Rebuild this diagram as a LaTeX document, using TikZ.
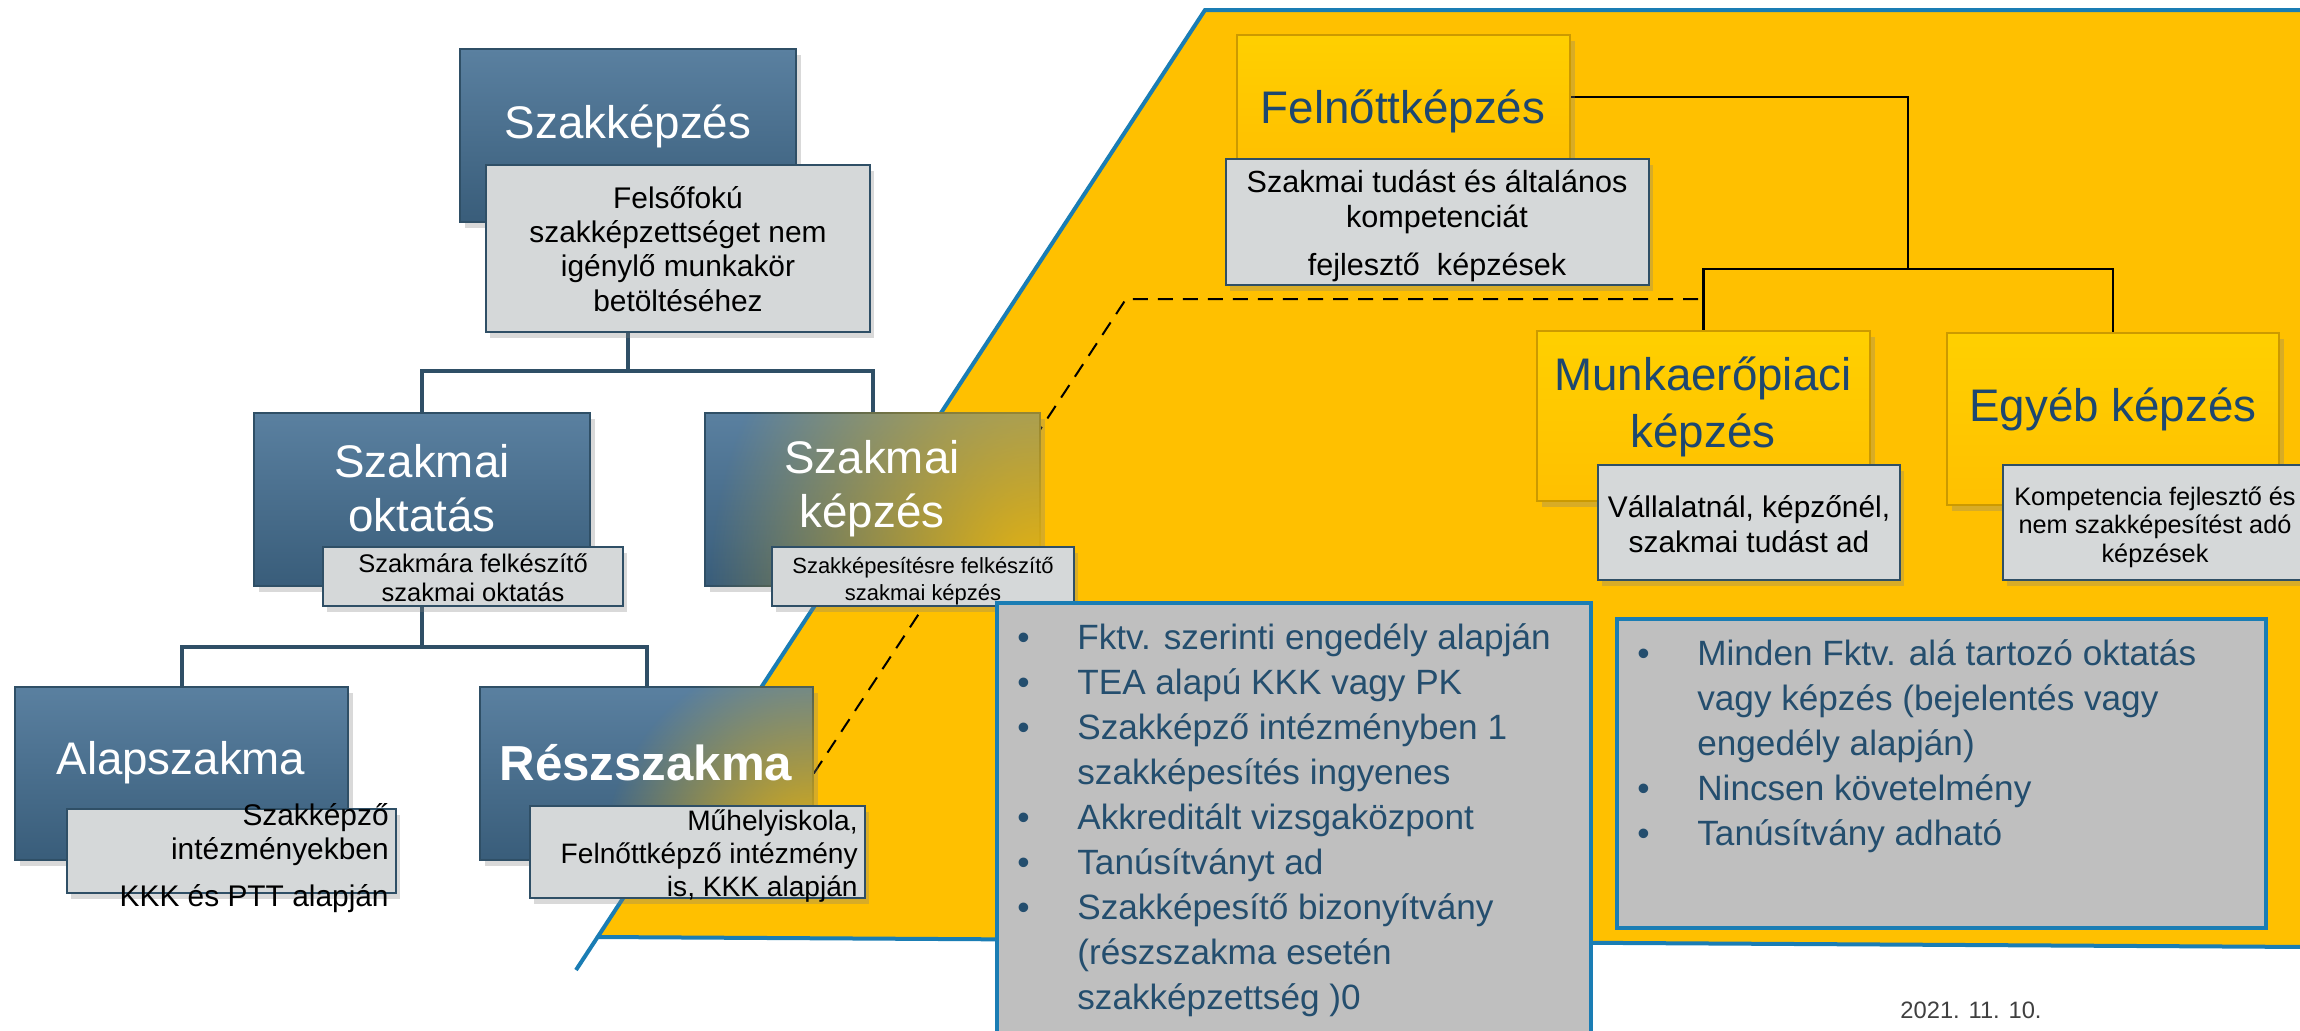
\documentclass[tikz,border=0pt]{standalone}
\usepackage{fontspec}
\setmainfont{Liberation Sans}
\usetikzlibrary{fit,shadows,fadings,backgrounds}
\definecolor{sarga}{HTML}{FFC000}
\definecolor{kek}{HTML}{1A7DB4}
\definecolor{sotetkek}{HTML}{2F4F66}
\definecolor{dobozfent}{HTML}{5A80A0}
\definecolor{dobozlent}{HTML}{395D7A}
\definecolor{szurke}{HTML}{BFBFBF}
\definecolor{halvany}{HTML}{D5D8D9}
\definecolor{betukek}{HTML}{1D4770}
\definecolor{listakek}{HTML}{244E6E}
\def\Sarga{(1205,10) -- (2310,10) -- (2310,947) -- (598,937) -- cycle}
\def\Pont{\makebox[12mm][l]{\textbullet}}
\def\Beh{\hspace*{12mm}}
\tikzfading[name=sargafade, inner color=transparent!10, outer color=transparent!100]
\tikzset{
  doboz/.style={inner sep=0pt, draw=sotetkek, line width=0.3mm,
    top color=dobozfent, bottom color=dobozlent,
    drop shadow={shadow xshift=1mm, shadow yshift=-1.2mm, opacity=0.3}},
  sargadoboz/.style={inner sep=0pt, draw=sarga!80!black, line width=0.3mm,
    top color=sarga!75!yellow, bottom color=sarga,
    drop shadow={shadow xshift=1mm, shadow yshift=-1.2mm, opacity=0.3}},
  alja/.style={inner sep=0pt, draw=sotetkek, line width=0.5mm, fill=halvany,
    drop shadow={shadow xshift=0.8mm, shadow yshift=-1.2mm, opacity=0.3}},
  aljaszoveg/.style={align=center, text=black, inner sep=0pt},
  cim/.style={text=white, align=center, font=\fontsize{26}{30.7}\selectfont},
  sargacim/.style={text=betukek, align=center, font=\fontsize{26}{32.4}\selectfont},
  fa/.style={sotetkek, line width=0.8mm},
  vonal/.style={black, line width=0.45mm},
  szaggatott/.style={black, line width=0.4mm, dash pattern=on 3mm off 2mm},
  lista/.style={draw=kek, line width=0.8mm, fill=szurke, inner sep=0pt},
  listaszoveg/.style={text=listakek, align=left, inner sep=0pt, anchor=north west,
    font=\fontsize{20}{25.6}\selectfont}
}
\begin{document}
\begin{tikzpicture}[x=0.2mm, y=-0.2mm]
    \useasboundingbox (0,0) rectangle (2300,1030);
    \clip (0,0) rectangle (2300,1030);
    \coordinate (ag1) at (628,371);
    \coordinate (ag2) at (422,647);
    \coordinate (ag3) at (1908,269);
    \coordinate (tores) at (1126,299);
    % Szakkepzes
    \node[doboz, fit={(460,49) (796,222)}] (szk) {};
    \node[cim] (szkC) at (628,126) {Szakképzés};
    \node[alja, fit={(486,165) (870,332)}] (szkA) {};
    \node[aljaszoveg, font=\fontsize{17}{19.5}\selectfont] (szkAT) at (678,249)
      {Felsőfokú\\szakképzettséget nem\\igénylő munkakör\\betöltéséhez};
    \node[doboz, fit={(254,413) (590,586)}] (okt) {};
    \node[cim] (oktC) at (422,488) {Szakmai\\oktatás};
    \node[alja, fit={(323,547) (623,606)}] (oktA) {};
    \node[aljaszoveg, font=\fontsize{14.5}{16.3}\selectfont] (oktAT) at (473,578)
      {Szakmára felkészítő\\szakmai oktatás};
    \node[doboz, fit={(705,413) (1040,586)}] (kep) {};
    \begin{scope}
      \clip (kep.south west) rectangle (kep.north east);
      \fill[sarga, path fading=sargafade] (710,206) rectangle (1370,966);
    \end{scope}
    \node[cim] (kepC) at (872,489) {Szakmai\\képzés};
    \node[alja, fit={(772,547) (1074,606)}] (kepA) {};
    \node[aljaszoveg, font=\fontsize{12.5}{15.4}\selectfont] (kepAT) at (923,581)
      {Szakképesítésre felkészítő\\szakmai képzés};
    \node[doboz, fit={(15,687) (348,860)}] (alap) {};
    \node[cim] (alapC) at (181,763) {Alapszakma};
    \node[alja, fit={(67,809) (396,893)}] (alapA) {};
    \node[align=right, anchor=north east, inner sep=0pt, font=\fontsize{17}{19.4}\selectfont] (alapT)
      at (389,803) {Szakképző\\intézményekben\\[2.6mm]KKK és PTT alapján};
    \node[doboz, fit={(480,687) (813,860)}] (resz) {};
    \begin{scope}
      \clip (resz.south west) rectangle (resz.north east);
      \fill[sarga, path fading=sargafade] (603,650) rectangle (1023,1070);
    \end{scope}
    \node[cim, font=\fontsize{28}{30}\selectfont\bfseries] (reszC) at (646,763) {Részszakma};
    \node[alja, fit={(530,806) (865,898)}] (reszA) {};
    \node[align=right, anchor=north east, inner sep=0pt, font=\fontsize{16}{18.8}\selectfont] (reszT)
      at (858,809) {Műhelyiskola,\\Felnőttképző intézmény\\is, KKK alapján};
    % Felnottkepzes
    \node[sargadoboz, fit={(1237,35) (1570,159)}] (fel) {};
    \node[sargacim] (felC) at (1403,111) {Felnőttképzés};
    \node[alja, fit={(1226,159) (1649,285)}] (felA) {};
    \node[aljaszoveg, font=\fontsize{17.4}{19.4}\selectfont] (felAT) at (1437,226)
      {Szakmai tudást és általános\\kompetenciát\\[2.8mm]fejlesztő\ \ képzések};
    \node[sargadoboz, fit={(1537,331) (1870,501)}] (munk) {};
    \node[sargacim] (munkC) at (1703,407) {Munkaerőpiaci\\képzés};
    \node[alja, fit={(1598,465) (1900,580)}] (munkA) {};
    \node[aljaszoveg, font=\fontsize{17}{19.9}\selectfont] (munkAT) at (1749,524)
      {Vállalatnál, képzőnél,\\szakmai tudást ad};
    \node[sargadoboz, fit={(1947,333) (2279,505)}] (egy) {};
    \node[sargacim] (egyC) at (2113,409) {Egyéb képzés};
    \node[alja, fit={(2003,465) (2307,580)}] (egyA) {};
    \node[aljaszoveg, font=\fontsize{14.4}{16.2}\selectfont] (egyAT) at (2155,527)
      {Kompetencia fejlesztő és\\nem szakképesítést adó\\képzések};
    % lists
    \node[lista, fit={(997,603) (1591,1045)}] (listaB) {};
    \node[listaszoveg] (listaBT) at (1017,623)
      {\Pont Fktv. szerinti engedély alapján\\ \Pont TEA alapú KKK vagy PK\\
       \Pont Szakképző intézményben 1\\ \Beh szakképesítés ingyenes\\
       \Pont Akkreditált vizsgaközpont\\ \Pont Tanúsítványt ad\\
       \Pont Szakképesítő bizonyítvány\\ \Beh (részszakma esetén\\ \Beh szakképzettség )0};
    \node[lista, fit={(1617,619) (2266,928)}] (listaJ) {};
    \node[listaszoveg] (listaJT) at (1637,639)
      {\Pont Minden Fktv. alá tartozó oktatás\\ \Beh vagy képzés (bejelentés vagy\\
       \Beh engedély alapján)\\ \Pont Nincsen követelmény\\ \Pont Tanúsítvány adható};
    \node[text=black!75, font=\fontsize{13.5}{16}\selectfont] (datum) at (1971,1010) {2021. 11. 10.};
    \begin{scope}[on background layer]
      \fill[sarga] \Sarga;
      \draw[kek, line width=0.8mm] (2310,10) -- (1205,10) -- (576,970) (598,937) -- (2310,947);
      \draw[szaggatott] (resz.east) -- (tores) -- (tores -| munk.north);
      \draw[fa] (szk.center |- szkA.south) -- (ag1) -| (okt.north);
      \draw[fa] (ag1) -| (kep.north);
      \draw[fa] (okt.center |- oktA.south) -- (ag2) -| (alap.north);
      \draw[fa] (ag2) -| (resz.north);
      \draw[vonal] (fel.east) -| (ag3) -| (munk.north);
      \draw[vonal] (ag3) -| (egy.north);
    \end{scope}
\end{tikzpicture}
\end{document}
